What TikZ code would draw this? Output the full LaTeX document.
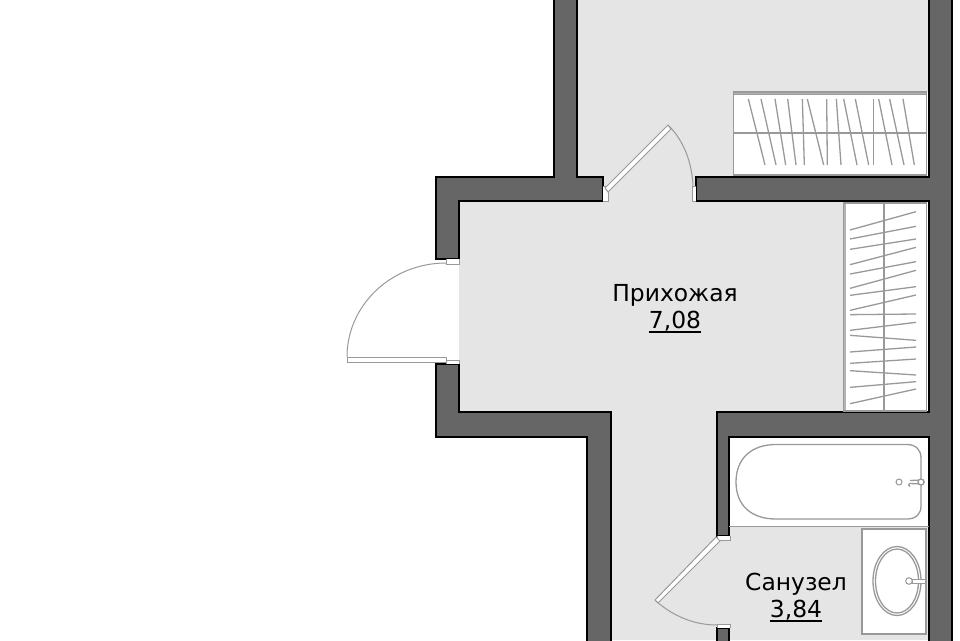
\documentclass[tikz,border=0pt]{standalone}
\usepackage{fontspec}
\setmainfont{DejaVu Sans}
\definecolor{floorgray}{HTML}{E5E5E5}
\definecolor{wallgray}{HTML}{666666}
\definecolor{linegray}{HTML}{999999}
\definecolor{edgegray}{HTML}{B4B4B4}
\newcommand{\areaval}[1]{\setbox0\hbox{#1}\rlap{\rule[-4pt]{\wd0}{2pt}}\box0}
\tikzset{
  wall/.style={fill=wallgray,draw=black,line width=1.2pt,line join=miter},
  fixture/.style={draw=linegray,line width=1.3pt},
  thinline/.style={draw=linegray,line width=1pt},
  leaf/.style={fill=white,draw=linegray,line width=1pt},
  roomlabel/.style={font=\fontsize{23.4}{27.5}\selectfont,align=center,text=black}
}
\begin{document}
\begin{tikzpicture}[x=1pt,y=-1pt]
                \clip (0,0) rectangle (960,640);
                \fill[white] (0,0) rectangle (960,640);
                % floor
                \fill[floorgray] (577,0) -- (929,0) -- (929,640) -- (611,640) -- (611,412)
                -- (459,412) -- (459,201) -- (577,201) -- cycle;
                % niches
                \fill[white] (733,92) rectangle (929,177);
                \fill[white] (843,201) rectangle (929,412);
                \fill[white] (729,437) rectangle (929,526);
                \fill[white] (862,529) rectangle (926,634);
                % walls
                \draw[wall] (554,-5) -- (554,177) -- (436,177) -- (436,259) -- (459,259) -- (459,201)
                -- (603,201) -- (603,177) -- (577,177) -- (577,-5) -- cycle;
                \draw[wall] (436,364) -- (459,364) -- (459,412) -- (611,412) -- (611,645)
                -- (587,645) -- (587,437) -- (436,437) -- cycle;
                \draw[wall] (696,201) -- (696,177) -- (929,177) -- (929,-5) -- (952,-5) -- (952,645)
                -- (929,645) -- (929,437) -- (729,437) -- (729,536) -- (717,536) -- (717,412)
                -- (929,412) -- (929,201) -- cycle;
                \draw[wall] (717,645) -- (717,628) -- (729,628) -- (729,645) -- cycle;
                % upper wardrobe
                \fill[edgegray] (733.5,92) rectangle (926.5,94.5);
                \draw[fixture] (733.5,92) rectangle (926.5,175);
                \draw[thinline] (733.5,94.5) -- (926.5,94.5);
                \draw[fixture] (733.5,133) -- (926.5,133);
                \foreach \xa/\xb in {85/135,123/168,165/197,203/228,247/253,262/311,320/322,
                349/363,371/411,406/446,461/461,476/516,509/552,549/583}
                \draw[fixture] (720+\xa/3,99) -- (720+\xb/3,165);
                % hall wardrobe
                \fill[edgegray] (843.5,203) rectangle (846,411);
                \draw[fixture] (843.5,203) rectangle (926.5,411);
                \draw[fixture] (884,203) -- (884,411);
                \foreach \ya/\yb in {105/50,132/94,163/132,209/157,237/200,280/226,301/275,346/300,
                359/357,406/382,421/436,471/456,505/492,527/540,577/560,626/582}
                \draw[fixture] (850,195+\ya/3) -- (916,195+\yb/3);
                % bath
                \draw[fixture] (729,526.5) -- (929,526.5);
                \draw[fixture] (736,482) .. controls (736,458) and (752,444.5) .. (776,444.5) -- (907,444.5)
                .. controls (916,444.5) and (921,450) .. (921,458) -- (921,506)
                .. controls (921,514) and (916,519) .. (907,519) -- (776,519)
                .. controls (752,519) and (736,506) .. (736,482) -- cycle;
                \draw[thinline] (899,482) circle (3);
                \draw[fixture,fill=white] (910,480.5) -- (922,480) arc (-90:90:2) -- (910,483.5) arc (270:90:1.5);
                \draw[fixture,fill=white] (921,482) circle (3);
                % sink
                \draw[fixture] (862,529) rectangle (926,634);
                \draw[fixture] (897,581) ellipse (24 and 34.5);
                \draw[fixture] (897,581) ellipse (21.5 and 32);
                \draw[thinline,fill=white] (912,579) rectangle (925,583);
                \draw[thinline,fill=white] (909,581) circle (3.3);
                % entrance door
                \draw[thinline,fill=white] (446,259) -- (446,264) -- (459,264) -- (459,259);
                \draw[thinline,fill=white] (446,364) -- (446,360) -- (459,360) -- (459,364);
                \draw[leaf] (347,357) rectangle (446,362);
                \draw[thinline] (347,357) arc (180:270:99 and 94);
                % room door
                \draw[thinline,fill=white] (603,186) -- (608,186) -- (608,201) -- (603,201);
                \draw[thinline,fill=white] (696,186) -- (692,186) -- (692,201) -- (696,201);
                \draw[leaf] (605,188) -- (668,125) -- (671,129) -- (608,192) -- cycle;
                \draw[thinline] (669,126) .. controls (684,141) and (692,163) .. (693,186);
                % bathroom door
                \draw[thinline,fill=white] (717,536) -- (717,540) -- (730,540) -- (730,536);
                \draw[thinline,fill=white] (717,628) -- (717,624) -- (730,624) -- (730,628);
                \draw[leaf] (716,537) -- (720,541) -- (658,603) -- (655,600) -- cycle;
                \draw[thinline] (656,601) .. controls (673,616) and (694,625) .. (717,625);
                % labels
                \node[roomlabel] (hall) at (675,308.5) {Прихожая\\\areaval{7,08}};
                \node[roomlabel] (bathroom) at (796,597.5) {Санузел\\\areaval{3,84}};
\end{tikzpicture}
\end{document}
